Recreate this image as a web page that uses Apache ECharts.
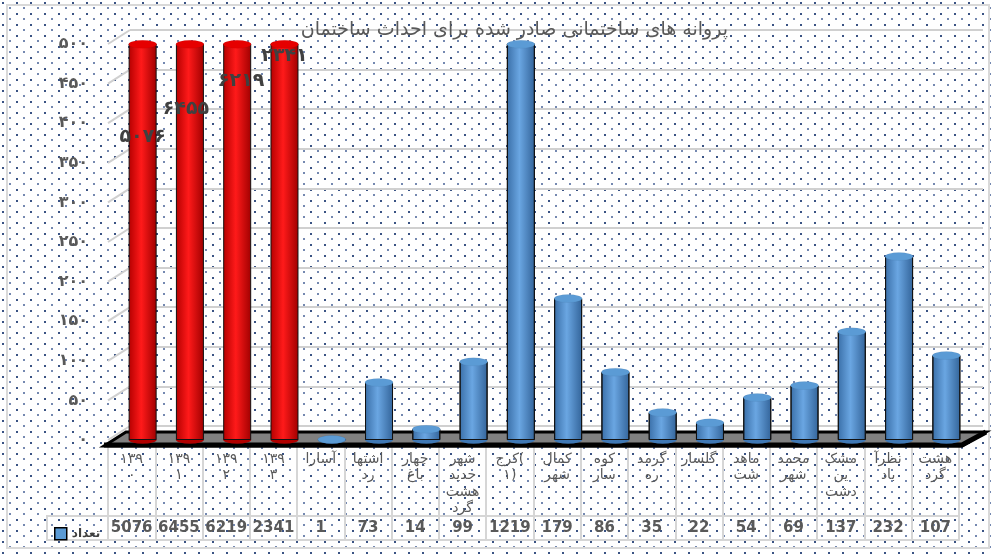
<!DOCTYPE html>
<html><head><meta charset="utf-8">
<script src="https://cdn.jsdelivr.net/npm/echarts@6/dist/echarts.min.js"></script>
<style>html,body{margin:0;padding:0;background:#fff}#c{width:994px;height:554px}</style>
</head><body><div id="c"></div>
<script>
var titleText = 'پروانه های ساختمانی صادر شده برای احداث ساختمان';
var categories = ['۱۳۹\n۰','۱۳۹\n۱','۱۳۹\n۲','۱۳۹\n۳','آسارا','اشتها\nرد','چهار\nباغ','شهر\nجدید\nهشت\nگرد','کرج(\n۱)','کمال\nشهر','کوه\nسار','گرمد\nره','گلسار','ماهد\nشت','محمد\nشهر','مشک\nین\nدشت','نظرآ\nباد','هشت\nگرد'];
var values = [5076,6455,6219,2341,1,73,14,99,1219,179,86,35,22,54,69,137,232,107];
var redCount = 4;
var yTicks = [0,50,100,150,200,250,300,350,400,450,500];
var redLabels = ['۵۰۷۶','۶۴۵۵','۶۲۱۹','۲۳۴۱'];
var seriesName = 'تعداد';
var yMax = 500;

var faDigits = '۰۱۲۳۴۵۶۷۸۹';
function fa(n){return String(n).replace(/[0-9]/g,function(d){return faDigits[+d];});}

// dotted background pattern
var pc = document.createElement('canvas'); pc.width = 14; pc.height = 11;
var g = pc.getContext('2d');
g.fillStyle = '#fff'; g.fillRect(0,0,14,11);
g.fillStyle = '#3a5384'; g.fillRect(2,2,2,2);
g.fillStyle = '#7488b0'; g.fillRect(9,7,2,2);

var redGrad = new echarts.graphic.LinearGradient(0,0,1,0,[{offset:0,color:'#b40000'},{offset:0.45,color:'#ff1a1a'},{offset:1,color:'#a00000'}]);
var blueGrad = new echarts.graphic.LinearGradient(0,0,1,0,[{offset:0,color:'#3a6fa8'},{offset:0.45,color:'#6aa6e2'},{offset:1,color:'#33649a'}]);

var barData = values.map(function(v,i){
  var it = {value:v, itemStyle:{color: i<redCount? redGrad : blueGrad}};
  if(i<redCount){
    var offs = [[0,108],[-4,80],[4,52],[0,27]];
    it.label = {show:true, formatter: redLabels[i], position:'top', offset: offs[i], color:'#404040', fontSize:19, fontWeight:'bold', fontFamily:'DejaVu Sans'};
  }
  return it;
});
var capData = values.map(function(v,i){
  return {value: Math.min(v,yMax), itemStyle:{color: i<redCount? '#e60000':'#5b9bd5'}};
});
var baseData = values.map(function(v,i){
  return {value: Math.min(v,yMax), itemStyle:{color: i<redCount? '#b00000':'#3f78b5'}};
});

var chart = echarts.init(document.getElementById('c'), null, {renderer:'canvas'});
var option = {
  animation:false,
  backgroundColor:{image:pc, repeat:'repeat'},
  title:{text:titleText, right:261, top:16, z:1, textStyle:{color:'#595959', fontSize:19, fontWeight:'normal', fontFamily:'DejaVu Sans'}},
  legend:{left:49, top:522, itemWidth:12, itemHeight:12, itemGap:4,
    data:[{name:seriesName, icon:'rect', itemStyle:{color:'#5b9bd5', borderColor:'#000', borderWidth:1.5}}],
    textStyle:{color:'#404040', fontSize:12, fontWeight:'bold', fontFamily:'DejaVu Sans', padding:[0,0,0,0]}},
  grid:[
    {left:119, right:24, top:44, bottom:114},
    {left:108, right:35, top:447, bottom:14},
    {left:130, right:11, top:30, bottom:128}
  ],
  xAxis:[
    {type:'category', gridIndex:0, data:categories, show:false},
    {type:'category', gridIndex:1, data:categories, position:'top',
      axisLine:{show:false}, axisTick:{show:false},
      splitLine:{show:true, interval:0, lineStyle:{color:'#d6d6d6', width:2}},
      axisLabel:{inside:true, interval:0, margin:4, color:'#595959', fontSize:14, lineHeight:16.5, fontFamily:'DejaVu Sans', verticalAlign:'top'}},
    {type:'category', gridIndex:1, data:values.map(String), position:'bottom',
      axisLine:{show:true, lineStyle:{color:'#d6d6d6', width:2}}, axisTick:{show:false},
      axisLabel:{inside:true, interval:0, margin:4, color:'#595959', fontSize:15, fontWeight:'bold', fontFamily:'DejaVu Sans'}},
    {type:'value', gridIndex:2, show:false, min:0, max:1}
  ],
  yAxis:[
    {type:'value', gridIndex:0, min:0, max:yMax, interval:50, splitLine:{show:false},
      axisLine:{show:false}, axisTick:{show:false},
      axisLabel:{margin:31, color:'#595959', fontSize:16, fontWeight:'bold', fontFamily:'DejaVu Sans', formatter:function(v){return fa(v);}}},
    {type:'value', gridIndex:1, show:false},
    {type:'value', gridIndex:2, min:0, max:yMax, interval:50, axisLabel:{show:false}, axisLine:{show:false}, axisTick:{show:false},
      splitLine:{show:true, lineStyle:{color:'#d0d0d0', width:2}}}
  ],
  series:[
    {type:'pictorialBar', name:seriesName, xAxisIndex:0, yAxisIndex:0, data:baseData, symbol:'circle', symbolSize:[28,8], symbolPosition:'start', symbolOffset:[0,'50%'], z:9, itemStyle:{borderColor:'#000', borderWidth:1}},
    {type:'bar', name:seriesName, xAxisIndex:0, yAxisIndex:0, data:barData, barWidth:28, z:10, itemStyle:{borderColor:'#111', borderWidth:1}},
    {type:'pictorialBar', name:seriesName, xAxisIndex:0, yAxisIndex:0, data:capData, symbol:'circle', symbolSize:[28,8], symbolPosition:'end', symbolOffset:[0,'-50%'], z:11, itemStyle:{borderColor:'#000', borderWidth:1}}
  ]
};
chart.setOption(option);

// decorations: floor, border, diagonal grid connectors, legend cell
var gfx = [];
gfx.push({type:'rect', shape:{x:7,y:5,width:982,height:543}, style:{fill:'none', stroke:'#d9d9d9', lineWidth:2}, z:0});
yTicks.forEach(function(t){
  var p1 = chart.convertToPixel({gridIndex:0}, [0, t]);
  var p2 = chart.convertToPixel({gridIndex:2}, [0, t]);
  gfx.push({type:'line', shape:{x1:108, y1:p1[1], x2:130, y2:p2[1]}, style:{stroke:'#d0d0d0', lineWidth:2}, z:1});
});
var fy = chart.convertToPixel({gridIndex:0}, [0,0])[1];
gfx.push({type:'polygon', shape:{points:[[104,fy+6],[962,fy+6],[986,fy-8],[126,fy-8]]}, style:{fill:'#808080', stroke:'#000', lineWidth:3}, z:5});
gfx.push({type:'polyline', shape:{points:[[104,fy+5],[962,fy+5],[986,fy-8]]}, style:{stroke:'#000', lineWidth:5, fill:'none'}, z:5});
gfx.push({type:'polyline', shape:{points:[[959,516],[47,516],[47,540],[108,540]]}, style:{stroke:'#d6d6d6', lineWidth:2, fill:'none'}, z:3});
chart.setOption({graphic:gfx});
</script></body></html>
